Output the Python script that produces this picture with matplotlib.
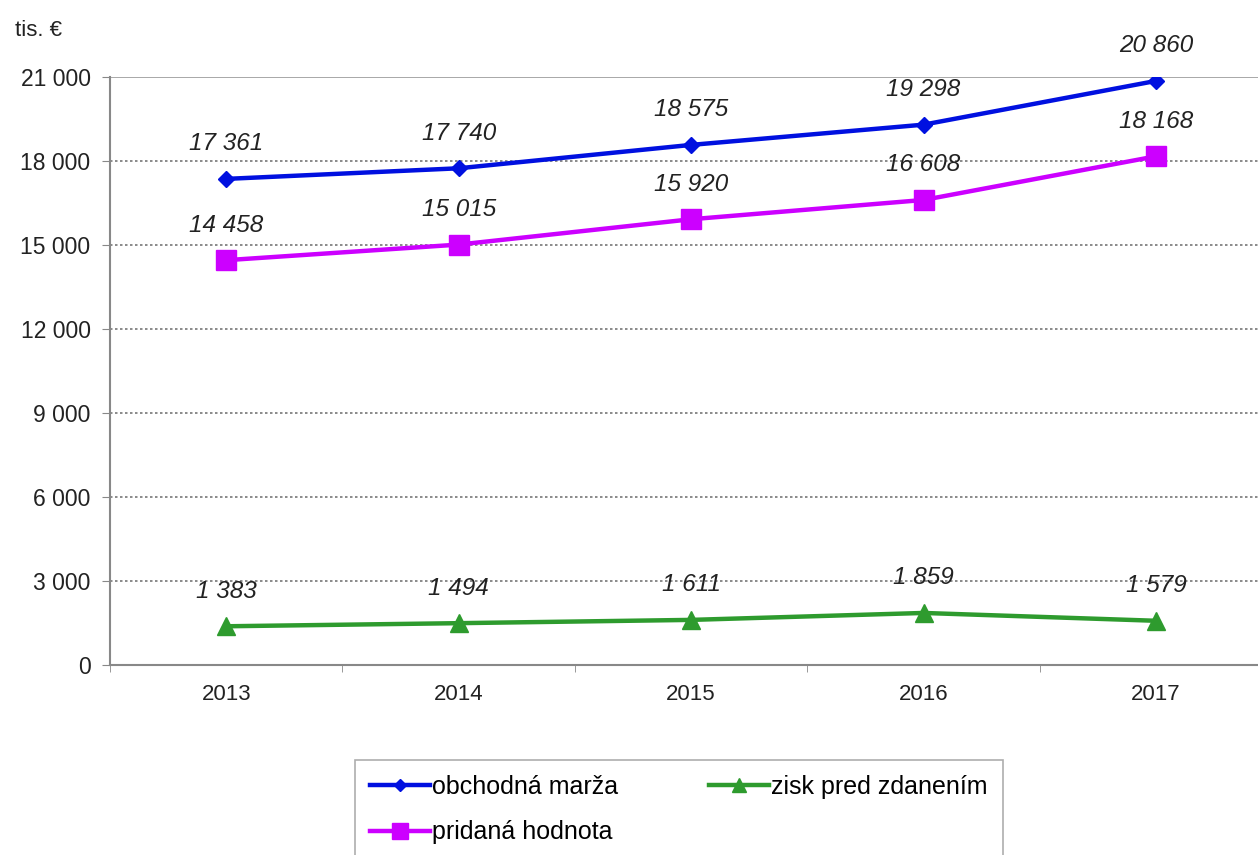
import matplotlib
matplotlib.use("Agg")
import matplotlib.pyplot as plt
from matplotlib.ticker import FixedLocator, FuncFormatter

years = ["2013", "2014", "2015", "2016", "2017"]
marza = [17361, 17740, 18575, 19298, 20860]
pridana = [14458, 15015, 15920, 16608, 18168]
zisk = [1383, 1494, 1611, 1859, 1579]
yticks = [0, 3000, 6000, 9000, 12000, 15000, 18000, 21000]

plt.rcParams['font.family'] = ['Liberation Sans', 'DejaVu Sans']

W, H = 1258, 855
fig = plt.figure(figsize=(W/100, H/100), dpi=100)
ax = fig.add_axes([110/W, (H-665)/H, (W-110)/W, (665-77)/H])

def fmt(v):
    return f"{v:,.0f}".replace(",", " ")

x = list(range(len(years)))
c_blue = "#0010E0"
c_mag = "#CC00FF"
c_green = "#2E9B2E"

l1, = ax.plot(x, marza, color=c_blue, lw=3.2, marker="D", ms=8, label="obchodná marža", zorder=4)
l2, = ax.plot(x, pridana, color=c_mag, lw=3.2, marker="s", ms=15, label="pridaná hodnota", zorder=4)
l3, = ax.plot(x, zisk, color=c_green, lw=3.2, marker="^", ms=13, label="zisk pred zdanením", zorder=4)

for series in (marza, pridana, zisk):
    for xi, v in zip(x, series):
        ax.annotate(fmt(v), (xi, v), xytext=(0, 17), textcoords="offset points",
                    ha="center", va="bottom", fontsize=17.5, style="italic", color="#222222")

ax.set_xlim(-0.5, (W-226)/232.5)
ax.set_ylim(0, 21000)
ax.set_yticks(yticks)
ax.yaxis.set_major_formatter(FuncFormatter(lambda v, p: fmt(v)))
ax.set_xticks(x)
ax.set_xticklabels(years)
ax.xaxis.set_minor_locator(FixedLocator([i + 0.5 for i in range(-1, len(years))]))
ax.tick_params(axis="x", which="major", length=0, pad=14, labelsize=16, colors="#222222")
ax.tick_params(axis="x", which="minor", length=5, color="#888888")
ax.tick_params(axis="y", length=6, color="#888888", labelsize=16.5, pad=8, labelcolor="#222222")

for v in yticks[1:]:
    if v == 21000:
        ax.axhline(v, color="#999999", lw=1.2, zorder=1)
    else:
        ax.axhline(v, color="#777777", lw=1.2, ls=(0, (1.5, 1.5)), zorder=1)

for s in ("top", "right"):
    ax.spines[s].set_visible(False)
for s in ("left", "bottom"):
    ax.spines[s].set_color("#888888")
    ax.spines[s].set_linewidth(1.5)

fig.text(15/W, 1 - 30/H, "tis. €", fontsize=16, va="center", ha="left", color="#222222")

leg = fig.legend(handles=[l1, l2, l3], loc="upper left", bbox_to_anchor=(355/W, 1 - 760/H),
                 borderaxespad=0, ncol=2, frameon=True, fontsize=18, handlelength=2.4,
                 handletextpad=0.1, columnspacing=3.6, borderpad=0.6, labelspacing=0.85,
                 fancybox=False, markerscale=0.75)
leg.get_frame().set_edgecolor("#999999")
leg.get_frame().set_linewidth(1.2)

fig.savefig("out.png", dpi=100)
